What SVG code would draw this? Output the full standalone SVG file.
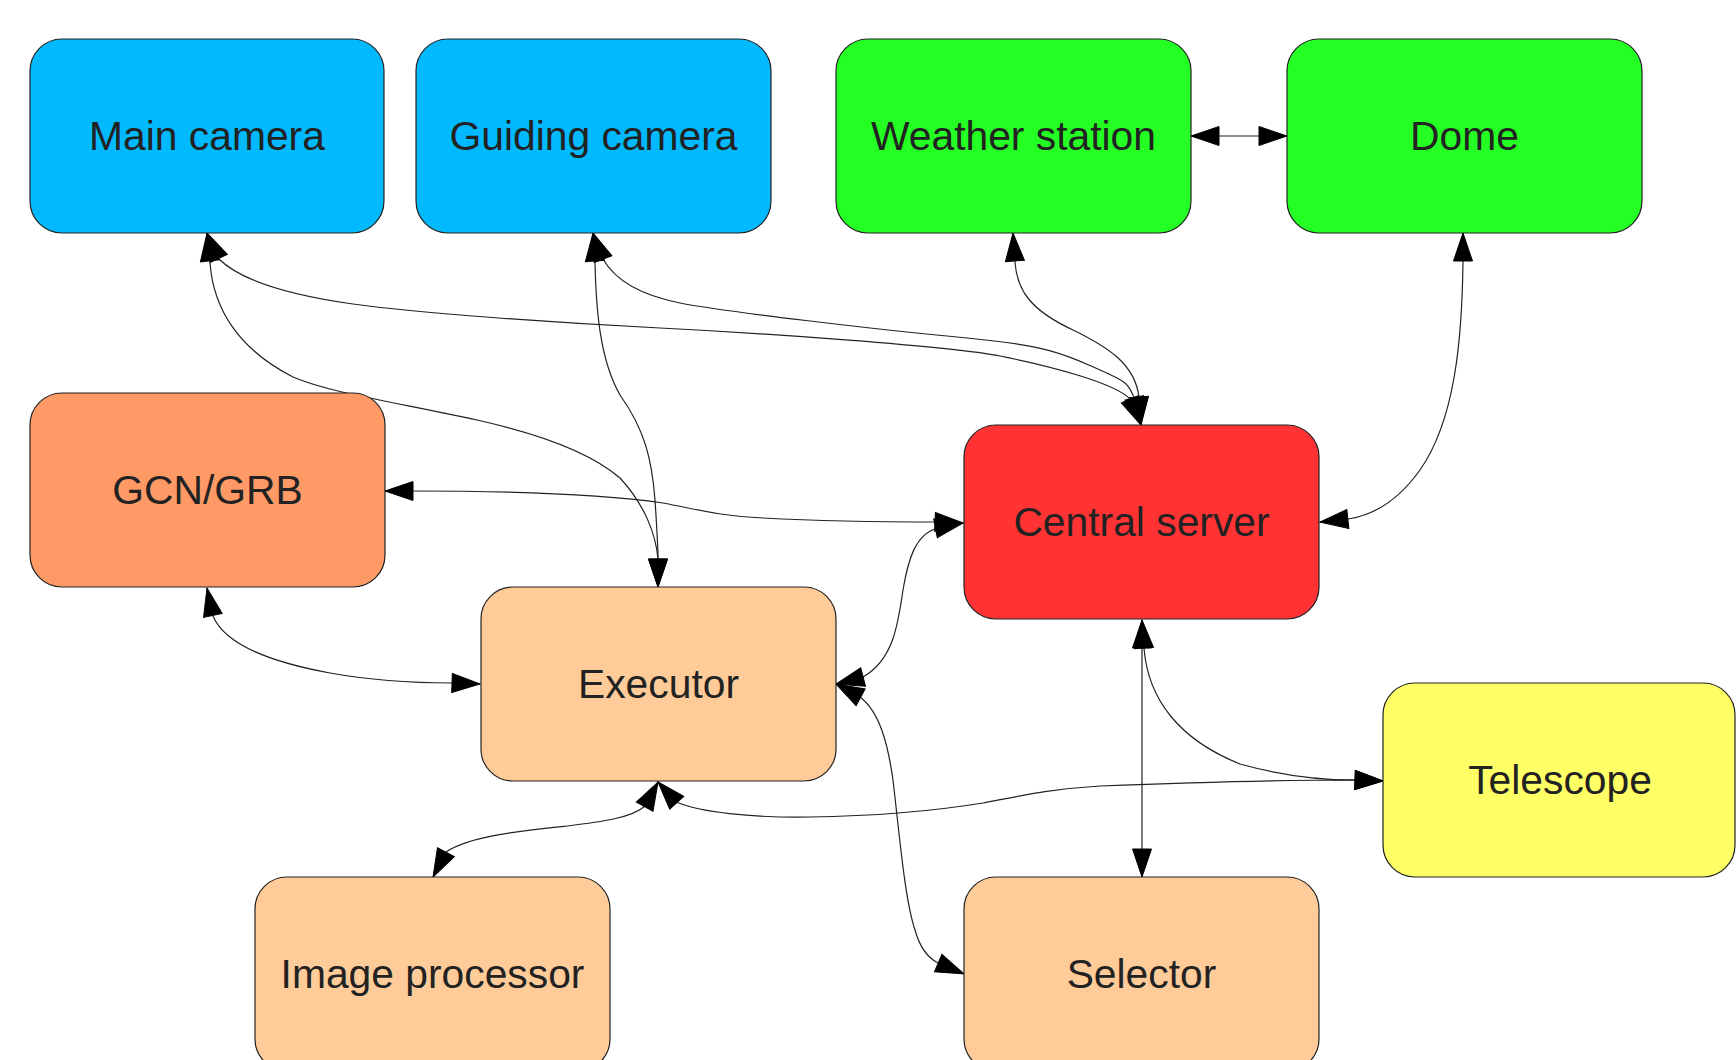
<svg xmlns="http://www.w3.org/2000/svg" width="1736" height="1060" viewBox="0 0 1736 1060">
<style>
.node rect{stroke:#222;stroke-width:1.2}
.node text{font-family:"Liberation Sans",Arial,sans-serif;font-size:40.8px;fill:#222;text-anchor:middle}
.edges path{fill:none;stroke:#222;stroke-width:1.2;marker-start:url(#ah);marker-end:url(#ah)}
</style>
<defs>
<marker id="ah" markerUnits="userSpaceOnUse" markerWidth="28" markerHeight="19" refX="28" refY="9.5" orient="auto-start-reverse" overflow="visible">
<path d="M0,0 L28,9.5 L0,19 Z" fill="#000" stroke="#000" stroke-width="1"/>
</marker>
</defs>
<rect width="1736" height="1060" fill="#fff"/>
<g class="edges">
<path d="M207,233 L219,259 C240,280 290,295 353,304 S560,323 660,328 S950,346 1000,356 S1115,383 1130,399 L1141,425"/>
<path d="M593,233 L603,259 C615,280 640,295 680,303 S880,330 967,338 S1070,357 1100,370 S1128,385 1134,397 L1141,425"/>
<path d="M1013,233 L1015,262 C1017,290 1030,310 1073,330 C1110,348 1135,365 1139,397 L1141,425"/>
<path d="M1463,233 L1463,262 C1462,340 1455,420 1420,470 C1400,498 1375,515 1348,519 L1320,522"/>
<path d="M385,491 L413,491 C500,491 600,494 663,503 C700,510 720,516 763,518 C820,521 880,522 937,522 L963,523"/>
<path d="M963,523 L937,528 C915,535 908,560 903,590 C898,625 893,660 863,677 L836,684"/>
<path d="M836,684 L860,697 C880,712 888,745 893,780 C900,840 905,900 915,930 C920,948 928,958 938,963 L964,974"/>
<path d="M1142,620 L1142,877"/>
<path d="M1142,620 L1144,648 C1148,700 1180,740 1240,764 C1290,778 1330,780 1355,780 L1383,781"/>
<path d="M658,782 L676,802 C700,812 750,818 810,817 C880,816 940,810 983,803 C1020,796 1050,789 1100,786 C1200,782 1300,780 1355,780 L1383,781"/>
<path d="M658,782 L645,806 C632,818 600,822 567,826 C520,831 470,836 446,852 L433,877"/>
<path d="M207,588 L213,616 C225,645 270,662 330,673 C380,682 420,683 452,683 L480,684"/>
<path d="M207,233 L210,262 C213,310 240,350 293,377 C330,393 400,403 477,420 C540,434 590,452 620,478 C645,505 656,535 658,559 L658,587"/>
<path d="M593,233 L595,262 C596,310 600,360 620,395 C645,430 652,460 655,500 C657,530 658,545 658,559 L658,587"/>
<path d="M1191,136 L1287,136"/>
</g>
<g id="main_camera" class="node"><rect x="30" y="39" width="354" height="194" rx="32" fill="#00b9ff"/><text x="207" y="150">Main camera</text></g>
<g id="guiding_camera" class="node"><rect x="416" y="39" width="355" height="194" rx="32" fill="#00b9ff"/><text x="593.5" y="150">Guiding camera</text></g>
<g id="weather_station" class="node"><rect x="836" y="39" width="355" height="194" rx="32" fill="#24ff24"/><text x="1013.5" y="150">Weather station</text></g>
<g id="dome" class="node"><rect x="1287" y="39" width="355" height="194" rx="32" fill="#24ff24"/><text x="1464.5" y="150">Dome</text></g>
<g id="gcn_grb" class="node"><rect x="30" y="393" width="355" height="194" rx="32" fill="#ff9966"/><text x="207.5" y="504">GCN/GRB</text></g>
<g id="central_server" class="node"><rect x="964" y="425" width="355" height="194" rx="32" fill="#ff3333"/><text x="1141.5" y="536">Central server</text></g>
<g id="executor" class="node"><rect x="481" y="587" width="355" height="194" rx="32" fill="#ffcc99"/><text x="658.5" y="698">Executor</text></g>
<g id="telescope" class="node"><rect x="1383" y="683" width="352" height="194" rx="32" fill="#ffff66"/><text x="1560" y="794">Telescope</text></g>
<g id="image_processor" class="node"><rect x="255" y="877" width="355" height="194" rx="32" fill="#ffcc99"/><text x="432.5" y="988">Image processor</text></g>
<g id="selector" class="node"><rect x="964" y="877" width="355" height="194" rx="32" fill="#ffcc99"/><text x="1141.5" y="988">Selector</text></g>
</svg>
